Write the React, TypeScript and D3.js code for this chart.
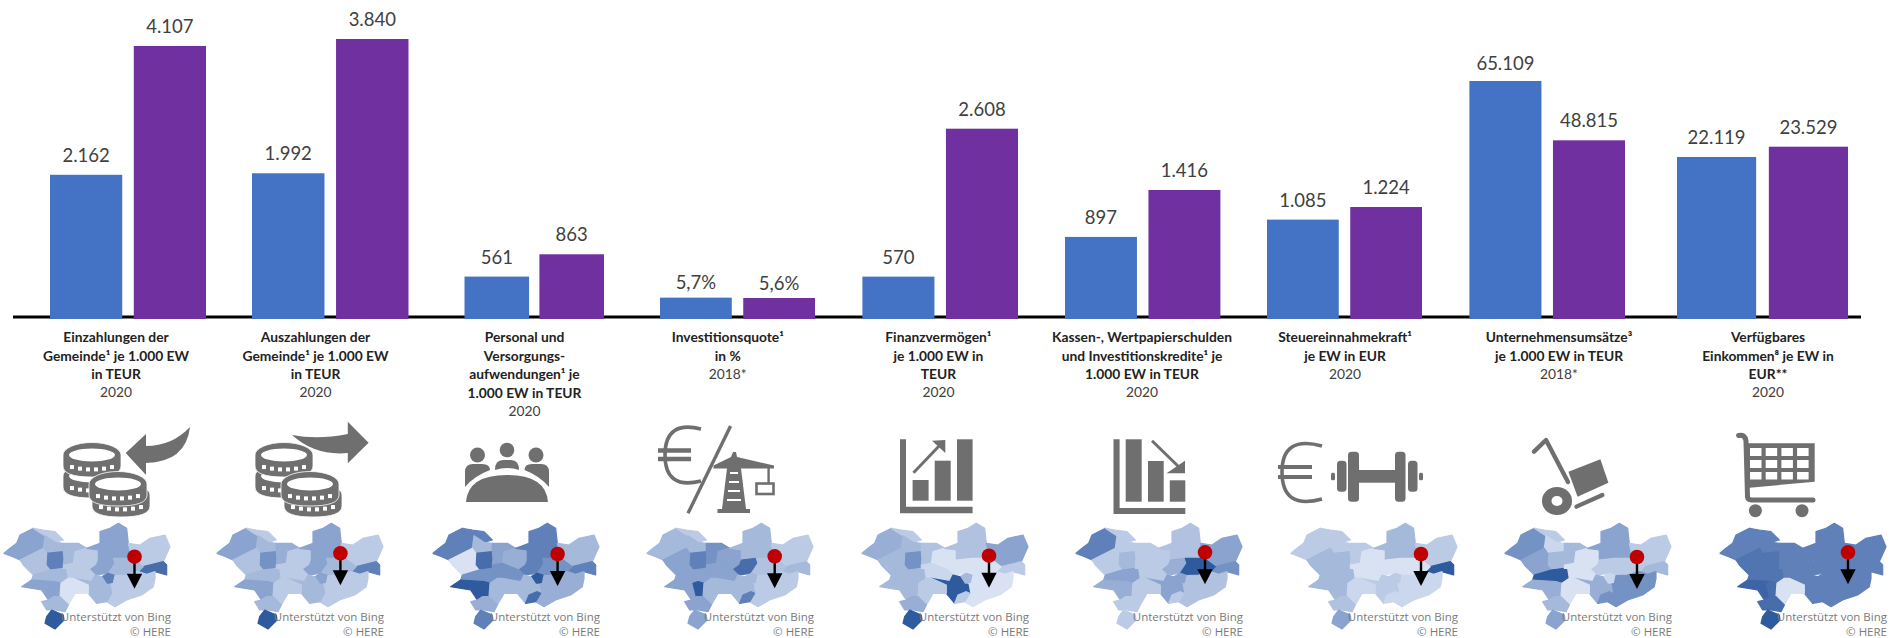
import React from "react";
import * as d3 from "d3";

// ---------- data ----------
const blueValues = [2162, 1992, 561, 5.7, 570, 897, 1085, 65109, 22119];
const purpleValues = [4107, 3840, 863, 5.6, 2608, 1416, 1224, 48815, 23529];
const blueLabels = ["2.162", "1.992", "561", "5,7%", "570", "897", "1.085", "65.109", "22.119"];
const purpleLabels = ["4.107", "3.840", "863", "5,6%", "2.608", "1.416", "1.224", "48.815", "23.529"];
// each panel has its own hidden value axis
const axisMax = [4801, 4377, 4308, 89, 4381, 3518, 3507, 87362, 43679];
const categoryLines = [
  ["Einzahlungen der", "Gemeinde¹ je 1.000 EW", "in TEUR"],
  ["Auszahlungen der", "Gemeinde¹ je 1.000 EW", "in TEUR"],
  ["Personal und", "Versorgungs-", "aufwendungen¹ je", "1.000 EW in TEUR"],
  ["Investitionsquote¹", "in %"],
  ["Finanzvermögen¹", "je 1.000 EW in", "TEUR"],
  ["Kassen-, Wertpapierschulden", "und Investitionskredite¹ je", "1.000 EW in TEUR"],
  ["Steuereinnahmekraft¹", "je EW in EUR"],
  ["Unternehmensumsätze³", "je 1.000 EW in TEUR"],
  ["Verfügbares", "Einkommen⁸ je EW in", "EUR**"],
];
const years = ["2020", "2020", "2020", "2018*", "2020", "2020", "2020", "2018*", "2020"];

// map shading, one list per map, in the order of regionShapes
const shade1 = [3, 1, 2, 4, 2, 1, 3, 1, 4.5, 3, 2, 4, 1, 1.5, 2, 1, 2, 3, 3, 0, 2, 5, 2];
const shade2 = [3, 1, 2, 3.5, 2.5, 1, 3, 1, 4, 3, 2, 3, 1, 1.5, 2, 1, 2, 3, 3, 1, 2, 5, 2];
const shade3 = [4, 4, 2, 4.5, 3, 2.5, 4, 2, 4, 4, 3.5, 5, 2.5, 0, 3.5, 3.5, 2, 5, 5, 2, 2.5, 4, 4.5];
const shade4 = [2, 1, 2, 4, 3.5, 3, 2, 1, 2, 4.5, 1.5, 2, 1, 3, 3, 3, 2, 3, 5, 2, 3, 3, 4];
const shade5 = [2.5, 1, 2, 3.5, 1.5, 0, 1.5, 3, 1, 0, 0, 2, 0, 2, 2, 0.5, 5, 2, 2, 1, 2.5, 5, 1];
const shade6 = [4, 1, 1, 2, 1, 1, 1.5, 3, 3.5, 2.5, 5, 3, 1.5, 1, 3, 1, 3, 2.5, 2.5, 1, 1, 1, 1];
const shade7 = [1, 1, 1, 2, 1, 0, 2, 1, 5, 0, 0, 1, 0.5, 2, 2, 0, 1, 2, 2, 0.5, 1.5, 3, 0.5];
const shade8 = [3.5, 1, 0.5, 2, 2, 0, 3, 1, 2, 1, 1, 0.5, 3.5, 3, 5, 0, 2.5, 2.5, 2.5, 0, 2, 3, 3.5];
const shade9 = [4, 4, 4, 4.3, 4, 4, 4, 4, 4, 4, 4, 4, 4, 4.3, 4.3, 4, 4, 4.7, 4.5, 0, 4.5, 5, 4];
const mapShades = [shade1, shade2, shade3, shade4, shade5, shade6, shade7, shade8, shade9];

// ---------- layout ----------
const W = 1898, H = 638;
const baseY = 318;
const groupRanges: [number, number][] = [
  [50, 206], [252, 408.5], [464.5, 604], [660, 815], [862.4, 1018],
  [1065, 1220.4], [1267, 1422], [1469.4, 1625], [1677, 1848],
];
const labelCenters = [116, 315.5, 524.5, 727.8, 938.4, 1142, 1345, 1559, 1768];
const blueNudge = [0, 0, 0, 4, 0, 0, 0, 2, 0];
const purpleNudge = [0, 0, 0, 5, 0, 0, 0, 0, 0];
const mapOffsets = [0, 213, 429, 643, 858, 1072, 1287, 1501, 1716];
const pins: [number, number][] = [
  [134.5, 556.7], [340.4, 553.3], [557.6, 554], [774.7, 556.3], [989, 555.7],
  [1205, 552.3], [1421, 554], [1637, 557], [1848, 552.3],
];
const GREY = "#6f6f6f";
const shadeColor = d3
  .scaleLinear<string>()
  .domain([0, 1, 2, 3, 4, 5])
  .range(["#d8e2f2", "#bccbe5", "#a5b9db", "#8aa3cf", "#5f80b8", "#2f5a9e"]);

// map geometry (px in a 3x working grid)
const regionShapes: [number, number][][] = [
  [[12,115],[30,100],[50,85],[60,60],[100,40],[118,52],[135,62],[130,100],[60,135],[38,125]], // A
  [[100,40],[130,45],[165,50],[190,75],[165,82],[135,62],[118,52]], // B
  [[130,100],[135,62],[165,82],[190,85],[190,110],[140,115]], // C
  [[140,115],[190,110],[192,130],[190,160],[150,165],[138,150]], // D
  [[190,85],[205,85],[235,85],[260,100],[225,110],[220,145],[190,150],[192,130],[190,110]], // E
  [[225,110],[260,100],[295,105],[290,150],[270,165],[220,145]], // F
  [[260,100],[300,85],[300,50],[330,40],[355,25],[380,40],[385,85],[395,130],[340,130],[295,135],[295,105]], // G
  [[385,85],[420,90],[450,70],[495,60],[510,95],[490,140],[430,155],[395,130]], // H
  [[415,170],[430,155],[490,140],[500,150],[500,180],[465,170],[440,178]], // I
  [[295,135],[340,130],[345,145],[325,175],[285,180],[270,165],[290,150]], // J
  [[340,130],[395,130],[430,155],[415,170],[380,180],[345,182],[325,175],[345,145]], // K
  [[305,185],[325,175],[345,182],[340,205],[320,208]], // L
  [[345,182],[380,180],[415,170],[440,178],[465,170],[465,190],[460,215],[425,240],[380,255],[345,275],[320,260],[335,235],[330,208],[340,205]], // M
  [[60,135],[130,100],[140,115],[138,150],[150,165],[100,180],[70,150]], // V
  [[100,180],[150,165],[190,160],[200,160],[205,190],[183,205],[165,200],[95,195]], // N
  [[190,150],[220,145],[270,165],[285,180],[275,200],[220,190],[205,190],[200,160],[190,160]], // O
  [[220,190],[275,200],[285,180],[305,185],[320,208],[330,208],[335,235],[325,230],[300,240],[290,265],[265,235],[265,210]], // P
  [[65,215],[95,195],[165,200],[150,205],[160,245],[145,255],[125,225]], // Q
  [[165,200],[183,205],[180,245],[160,245],[150,205]], // X
  [[183,205],[205,190],[220,190],[265,210],[265,235],[225,235],[205,270],[180,245]], // R
  [[125,260],[145,255],[160,245],[180,245],[205,270],[195,290],[165,285],[140,285]], // S
  [[155,285],[190,300],[192,315],[165,342],[135,325],[140,305]], // T
  [[300,240],[325,230],[335,235],[320,260],[290,265]], // W
];
const regionPath = d3.line<[number, number]>().x(d => d[0] / 3).y(d => 515 + d[1] / 3).curve(d3.curveLinearClosed);

// ---------- icons ----------
function Coin({ cx, cy }: { cx: number; cy: number }) {
  const rx = 29, ry = 12.5;
  const xs = [-20, -12, -4, 4, 12, 20];
  return (
    <g>
      <path d={`M${cx - rx} ${cy} A${rx} ${ry} 0 0 1 ${cx + rx} ${cy} V${cy + 11} Q${cx + rx} ${cy + 22} ${cx} ${cy + 22} Q${cx - rx} ${cy + 22} ${cx - rx} ${cy + 11} Z`} fill={GREY} stroke="#fff" strokeWidth={0.8} />
      <ellipse cx={cx} cy={cy} rx={rx - 6} ry={ry - 6} fill="#fff" />
      {xs.map(dx => (
        <rect key={dx} x={cx + dx - 2} y={cy + 9 + 3.5 * (1 - (dx / 24) ** 2)} width={4} height={4} fill="#fff" />
      ))}
    </g>
  );
}
function Coins({ dx }: { dx: number }) {
  return (
    <g>
      <Coin cx={92 + dx} cy={476} />
      <Coin cx={92 + dx} cy={455} />
      <Coin cx={121 + dx} cy={495} />
      <Coin cx={118 + dx} cy={484} />
    </g>
  );
}
function Icons() {
  return (
    <g fill={GREY}>
      {/* 1 */}
      <Coins dx={0} />
      <path d="M125.7 453 L146 434 L146 446 Q172 446 190 427 Q186 462 146 463 L146 475 Z" />
      {/* 2 */}
      <Coins dx={192} />
      <path d="M368.6 442.7 L347.8 421.7 L347.8 434 Q318 440 292 435 Q315 456 347.8 453 L347.8 463.3 Z" />
      {/* 3 */}
      <ellipse cx={507} cy={450} rx={7.3} ry={7.3} />
      <ellipse cx={477.5} cy={455} rx={7.5} ry={7.5} />
      <ellipse cx={536} cy={455} rx={7.5} ry={7.5} />
      <path d="M465 487 V472 Q465 464 473 464 H482 Q490 464 490 470 Q474 476 465 487 Z" />
      <path d="M495 470 Q495 460 503 460 H511 Q519 460 519 470 Q507 466 495 470 Z" />
      <path d="M549 487 V472 Q549 464 541 464 H532 Q524.5 464 524.5 470 Q540 476 549 487 Z" />
      <path d="M466 502 Q468 475 507 475 Q546 475 548 502 Z" />
      {/* 4 */}
      <g fill="none" stroke={GREY} strokeWidth={3.6}>
        <path d="M701 429 Q665 420 665 455 Q665 490 701 481" />
        <path d="M658 450.5 H691 M658 459 H691" strokeWidth={4.5} />
        <path d="M730.6 426 L688 513.3" strokeWidth={3.4} />
        <rect x={756.5} y={483.5} width={17} height={10.5} strokeWidth={2.6} />
        <path d="M768.6 467 V483" strokeWidth={2.4} />
      </g>
      <path d="M733 452 L736 452 L737 457 L774 465.5 V468.5 L741 468.5 L746 509 H750 V513 H717.5 V509 H722 L727 468.5 L713.5 468.5 V465.5 L731 457 Z" />
      <path d="M730 473 H738 M729 482 H739 M728 491 H740 M727 500 H741" stroke="#fff" strokeWidth={2} fill="none" />
      {/* 5 */}
      <path d="M900 439.3 H906 V506.7 H972.6 V513.3 H900 Z" />
      <rect x={912.6} y={480} width={16} height={20.7} />
      <rect x={934.7} y={460.7} width={16} height={40} />
      <rect x={957} y={439.3} width={15.6} height={61.4} />
      <path d="M913.5 472.7 L941 444" stroke={GREY} strokeWidth={3} fill="none" />
      <path d="M945.3 440 L932 440.7 L945.3 453 Z" />
      {/* 6 */}
      <path d="M1113.5 439.3 H1119.6 V508 H1185.3 V514 H1113.5 Z" />
      <rect x={1125.7} y={439.3} width={16} height={62.4} />
      <rect x={1148} y={461} width={15.7} height={40.7} />
      <rect x={1169.8} y={480.3} width={15.5} height={21.4} />
      <path d="M1152 440.7 L1181 469" stroke={GREY} strokeWidth={3} fill="none" />
      <path d="M1185 473.3 L1185 460.7 L1166.5 473.3 Z" />
      {/* 7 */}
      <g fill="none" stroke={GREY} strokeWidth={3.6}>
        <path d="M1322 446 Q1282 435 1282 472 Q1282 510 1322 499" />
        <path d="M1278 467 H1312 M1278 477 H1312" strokeWidth={4} />
      </g>
      <rect x={1331} y={472.7} width={4} height={7.5} rx={1.5} />
      <rect x={1337} y={460.7} width={9.5} height={31} rx={3.5} />
      <rect x={1348} y={451.7} width={11} height={50} rx={3.5} />
      <rect x={1358} y={470} width={38} height={12.7} />
      <rect x={1395} y={451.7} width={10.5} height={50} rx={3.5} />
      <rect x={1408} y={460.7} width={9.5} height={31} rx={3.5} />
      <rect x={1419} y={472.7} width={4} height={7.5} rx={1.5} />
      {/* 8 */}
      <path d="M1534 451.7 L1546 440 L1568 482" fill="none" stroke={GREY} strokeWidth={4.4} strokeLinecap="round" strokeLinejoin="round" />
      <ellipse cx={1557} cy={501} rx={15} ry={14} />
      <ellipse cx={1557} cy={501} rx={5.5} ry={5} fill="#fff" />
      <path d="M1568.4 471.7 L1600.4 459.3 L1608.4 482.7 L1577.6 496.7 Z" />
      <path d="M1576.4 506.7 L1602.4 495" fill="none" stroke={GREY} strokeWidth={4.2} strokeLinecap="round" />
      {/* 9 */}
      <path d="M1738.6 435.5 Q1745 434 1746 441 L1747.5 497 Q1748 500 1752 500 H1813" fill="none" stroke={GREY} strokeWidth={5} strokeLinecap="round" strokeLinejoin="round" />
      <path d="M1746 443.3 H1814.7 V481.7 L1747 488 Z" />
      {[0, 1, 2].map(r =>
        [0, 1, 2, 3].map(c => (
          <rect key={`${r}${c}`} x={1750 + c * 15.7} y={448 + r * 12} width={11.5} height={r === 2 ? 7.5 : 8} fill="#fff" />
        ))
      )}
      <circle cx={1755.4} cy={510.7} r={6.5} />
      <circle cx={1802} cy={510.7} r={6.5} />
    </g>
  );
}

// ---------- app ----------
export default function App() {
  const sans = "Lato, 'Open Sans', sans-serif";
  return (
    <svg width={W} height={H} viewBox={`0 0 ${W} ${H}`} style={{ position: "absolute", left: 0, top: 0, background: "#fff" }}>
      <defs>
        <filter id="soft" x="-5%" y="-5%" width="110%" height="110%">
          <feGaussianBlur stdDeviation={0.5} />
        </filter>
      </defs>
      <line x1={13} x2={1861} y1={317} y2={317} stroke="#000" strokeWidth={3} />
      {blueValues.map((bv, i) => {
        const x = d3.scaleBand<string>().domain(["blue", "purple"]).range(groupRanges[i]).paddingInner(0.138);
        const y = d3.scaleLinear().domain([0, axisMax[i]]).range([baseY, 0]);
        const items = [
          { k: "blue", v: bv, l: blueLabels[i], c: "#4472c4", n: blueNudge[i] },
          { k: "purple", v: purpleValues[i], l: purpleLabels[i], c: "#7030a0", n: purpleNudge[i] },
        ];
        return (
          <g key={i}>
            {items.map(b => (
              <g key={b.k}>
                <rect x={x(b.k)} y={y(b.v)} width={x.bandwidth()} height={baseY + 1 - y(b.v)} fill={b.c} />
                <text x={x(b.k)! + x.bandwidth() / 2} y={y(b.v) - 13 + b.n} textAnchor="middle" fontFamily={sans} fontSize={18.5} fill="#404040">{b.l}</text>
              </g>
            ))}
            {categoryLines[i].map((t, j) => (
              <text key={j} x={labelCenters[i]} y={342 + j * 18.5} textAnchor="middle" fontFamily={sans} fontWeight={700} fontSize={13.8} fill="#222">{t}</text>
            ))}
            <text x={labelCenters[i]} y={342 + categoryLines[i].length * 18.4} textAnchor="middle" fontFamily={sans} fontSize={13.8} fill="#404040">{years[i]}</text>
          </g>
        );
      })}
      <Icons />
      {mapShades.map((s, i) => (
        <g key={i}>
          <g transform={`translate(${mapOffsets[i]},0)`} filter="url(#soft)">
            {regionShapes.map((r, k) => (
              <path key={k} d={regionPath(r)!} fill={shadeColor(s[k])} stroke={shadeColor(s[k])} strokeWidth={1.2} strokeLinejoin="round" />
            ))}
          </g>
          <text x={mapOffsets[i] + 171} y={620.5} textAnchor="end" fontFamily="'Open Sans', sans-serif" fontSize={11.5} fill="#7a7a7a">Unterstützt von Bing</text>
          <text x={mapOffsets[i] + 171} y={636} textAnchor="end" fontFamily="'Open Sans', sans-serif" fontSize={11.5} fill="#7a7a7a">© HERE</text>
          <line x1={pins[i][0]} x2={pins[i][0]} y1={pins[i][1]} y2={pins[i][1] + 18} stroke="#000" strokeWidth={2.4} />
          <path d={`M${pins[i][0] - 7.7} ${pins[i][1] + 17} H${pins[i][0] + 7.7} L${pins[i][0]} ${pins[i][1] + 32} Z`} fill="#000" />
          <circle cx={pins[i][0]} cy={pins[i][1]} r={7.3} fill="#c00000" />
        </g>
      ))}
    </svg>
  );
}
